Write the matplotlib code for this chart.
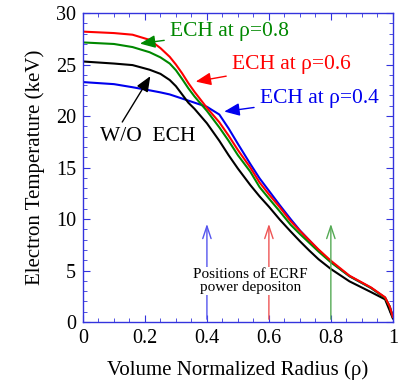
import numpy as np
import matplotlib
matplotlib.use("Agg")
import matplotlib.pyplot as plt
from matplotlib.ticker import MultipleLocator, FormatStrFormatter

plt.rcParams['font.family'] = ['Liberation Serif', 'DejaVu Serif']

rho = [0.0, 0.1, 0.16, 0.215, 0.25, 0.28, 0.3, 0.32, 0.34, 0.36, 0.4, 0.44, 0.47,
       0.5, 0.54, 0.57, 0.6, 0.635, 0.67, 0.7, 0.73, 0.76, 0.8, 0.86, 0.93,
       0.975, 0.99, 1.0]
te_woech = [25.3, 25.1, 24.95, 24.5, 24.1, 23.5, 22.9, 22.1, 21.3, 20.7, 19.3,
            17.6, 16.2, 14.9, 13.3, 12.2, 11.2, 9.95, 8.8, 7.85, 6.95, 6.1, 5.15,
            3.95, 2.9, 2.2, 1.1, 0.35]
te_ech08 = [27.15, 27.0, 26.7, 26.2, 25.7, 25.1, 24.45, 23.6, 22.7, 21.9, 20.5,
            18.9, 17.6, 16.2, 14.6, 13.1, 12.0, 10.75, 9.45, 8.55, 7.7, 6.85, 5.8,
            4.45, 3.3, 2.35, 1.5, 0.5]
te_ech06 = [28.2, 28.06, 27.9, 27.4, 26.6, 25.75, 25.0, 24.15, 23.2, 22.35, 20.8,
            19.4, 18.1, 16.7, 15.0, 13.55, 12.4, 11.15, 9.8, 8.85, 7.95, 7.05, 5.95,
            4.5, 3.35, 2.4, 1.5, 0.5]
te_ech04 = [23.3, 23.1, 22.8, 22.5, 22.3, 22.1, 21.9, 21.7, 21.5, 21.3, 20.9,
            20.15, 18.8, 17.3, 15.35, 13.95, 12.75, 11.35, 10.0, 8.9, 7.95, 7.0,
            5.85, 4.45, 3.3, 2.35, 1.5, 0.5]

deposit_rho = [0.4, 0.6, 0.8]
deposit_colors = ['#5555ee', '#ee5555', '#55aa55']

fig = plt.figure(figsize=(3.98, 3.85), dpi=100)
ax = fig.add_axes([0.2085, 0.1636, 0.7785, 0.8024])

ax.plot(rho, te_ech04, color='#0000ee', lw=1.5)
ax.plot(rho, te_woech, color='black', lw=1.5)
ax.plot(rho, te_ech08, color='#008800', lw=1.5)
ax.plot(rho, te_ech06, color='#ff0000', lw=1.5)

# deposition arrows
for r, c in zip(deposit_rho, deposit_colors):
    ax.annotate('', xy=(r, 9.8), xytext=(r, 0),
                arrowprops=dict(arrowstyle='->,head_length=0.9,head_width=0.3',
                                color=c, lw=1.0))

ax.text(0.54, 4.0, 'Positions of ECRF\npower depositon', ha='center', va='center',
        fontsize=11, linespacing=0.95,
        bbox=dict(facecolor='white', edgecolor='none', pad=1))

arrow_kw = dict(arrowstyle='-|>,head_length=0.6,head_width=0.25', lw=1.0)
ax.annotate('ECH at ρ=0.8', xy=(0.175, 27.0), xytext=(0.28, 28.2),
            color='#008800', fontsize=15.5, va='center',
            arrowprops=dict(color='#008800', **arrow_kw))
ax.annotate('ECH at ρ=0.6', xy=(0.355, 23.3), xytext=(0.48, 25.0),
            color='#ff0000', fontsize=15.5, va='center',
            arrowprops=dict(color='#ff0000', **arrow_kw))
ax.annotate('ECH at ρ=0.4', xy=(0.447, 20.4), xytext=(0.57, 21.7),
            color='#0000ee', fontsize=15.5, va='center',
            arrowprops=dict(color='#0000ee', **arrow_kw))
ax.annotate('W/O  ECH', xy=(0.222, 24.1), xytext=(0.055, 18.0),
            color='black', fontsize=15.5, va='center',
            arrowprops=dict(color='black', relpos=(0.2, 1.0), **arrow_kw))

ax.set_xlim(0, 1)
ax.set_ylim(0, 30)
ax.xaxis.set_major_locator(MultipleLocator(0.2))
ax.xaxis.set_minor_locator(MultipleLocator(0.05))
ax.yaxis.set_major_locator(MultipleLocator(5))
ax.yaxis.set_minor_locator(MultipleLocator(1))
ax.xaxis.set_major_formatter(FormatStrFormatter('%g'))

for s in ax.spines.values():
    s.set_color('#3333dd')
    s.set_linewidth(1.0)
ax.tick_params(which='both', direction='in', top=True, right=True,
               color='#3333dd', labelsize=14.5)
ax.tick_params(which='major', length=5, pad=5)
ax.tick_params(which='minor', length=3)

ax.set_xlabel('Volume Normalized Radius (ρ)', fontsize=15, labelpad=9)
ax.set_ylabel('Electron Temperature (keV)', fontsize=15, labelpad=8)

fig.savefig('out.png', dpi=100)
